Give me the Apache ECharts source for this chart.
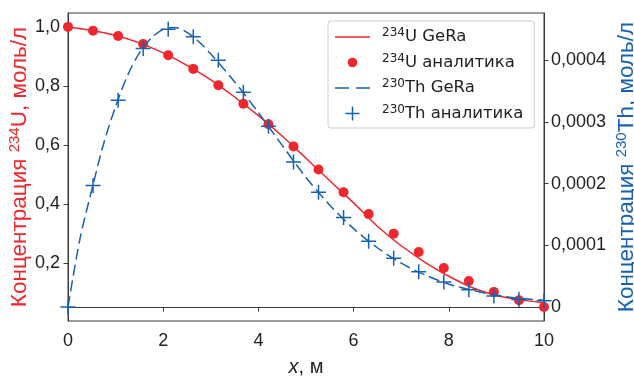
<!DOCTYPE html>
<html><head><meta charset="utf-8">
<script src="https://cdn.jsdelivr.net/npm/echarts@6/dist/echarts.min.js"></script>
<style>html,body{margin:0;padding:0;background:#fff}#c{width:634px;height:376px}</style>
</head><body><div id="c"></div>
<script>
// ---- data ----
const seriesNames = ['234U GeRa', '234U аналитика', '230Th GeRa', '230Th аналитика'];
const xAnalytic = [0, 0.526, 1.053, 1.579, 2.105, 2.632, 3.158, 3.684, 4.211, 4.737, 5.263, 5.789, 6.316, 6.842, 7.368, 7.895, 8.421, 8.947, 9.474, 10];
const uAnalytic = [1.000, 0.987, 0.969, 0.942, 0.904, 0.858, 0.803, 0.740, 0.671, 0.596, 0.518, 0.441, 0.367, 0.301, 0.239, 0.185, 0.141, 0.104, 0.076, 0.053];
const thAnalytic = [0, 1.97e-4, 3.35e-4, 4.19e-4, 4.50e-4, 4.38e-4, 4.00e-4, 3.48e-4, 2.93e-4, 2.35e-4, 1.86e-4, 1.45e-4, 1.065e-4, 0.79e-4, 0.57e-4, 0.405e-4, 0.28e-4, 0.18e-4, 0.12e-4, 0.10e-4];
const uLineX = [0, 0.5, 1, 1.5, 2, 2.5, 3, 3.5, 4, 4.5, 5, 5.5, 6, 6.5, 7, 7.5, 8, 8.5, 9, 9.5, 10];
const uLineY = [1.000, 0.988, 0.971, 0.946, 0.912, 0.870, 0.821, 0.763, 0.700, 0.631, 0.556, 0.480, 0.405, 0.326, 0.260, 0.204, 0.157, 0.118, 0.092, 0.077, 0.067];
const thLineX = [0, 0.25, 0.5, 0.75, 1, 1.25, 1.5, 1.75, 2, 2.25, 2.5, 2.75, 3, 3.5, 4, 4.5, 5, 5.5, 6, 6.5, 7, 7.5, 8, 8.5, 9, 9.5, 10];
const thLineY = [0, 1.1e-4, 1.9e-4, 2.65e-4, 3.25e-4, 3.75e-4, 4.12e-4, 4.36e-4, 4.50e-4, 4.53e-4, 4.45e-4, 4.30e-4, 4.10e-4, 3.65e-4, 3.15e-4, 2.62e-4, 2.10e-4, 1.65e-4, 1.27e-4, 0.96e-4, 0.71e-4, 0.52e-4, 0.37e-4, 0.27e-4, 0.19e-4, 0.14e-4, 0.11e-4];
const xTicks = [0, 2, 4, 6, 8, 10];
const yLeftTicks = [0.2, 0.4, 0.6, 0.8, 1.0];
const yLeftLabels = ['0,2', '0,4', '0,6', '0,8', '1,0'];
const yRightTicks = [0, 0.0001, 0.0002, 0.0003, 0.0004];
const yRightLabels = ['0', '0,0001', '0,0002', '0,0003', '0,0004'];

// ---- styling ----
const RED = '#f0262c';
const BLUE = '#1662b0';
const AX = '#3a3a3a';
const TICKFONT = {fontFamily: 'Liberation Sans', fontSize: 18, color: '#222'};
function pick(ticks, labels, v) {
  let best = 0, d = Infinity;
  ticks.forEach((t, i) => { const e = Math.abs(t - v); if (e < d) { d = e; best = i; } });
  return labels[best];
}
function nameRich(color) {
  return {
    m: {fontFamily: 'Liberation Sans', fontSize: 22.5, color: color, lineHeight: 25, verticalAlign: 'middle'},
    s: {fontFamily: 'Liberation Sans', fontSize: 15, color: color, lineHeight: 15, verticalAlign: 'top'}
  };
}
const zip = (a, b) => a.map((v, i) => [v, b[i]]);
const PLUS = 'path://M0,7H14M7,0V14';

const chart = echarts.init(document.getElementById('c'), null, {renderer: 'canvas'});
chart.setOption({
  animation: false,
  backgroundColor: '#fff',
  grid: {left: 68, right: 90, top: 13, bottom: 55, containLabel: false, outerBoundsMode: 'none',
         show: true, borderColor: AX, borderWidth: 1, backgroundColor: 'transparent'},
  xAxis: {
    type: 'value', min: 0, max: 10, interval: 2,
    axisLine: {show: true, lineStyle: {color: AX, width: 1}},
    axisTick: {show: true, length: 4.5, lineStyle: {color: AX}},
    axisLabel: Object.assign({margin: 11, formatter: v => String(v)}, TICKFONT),
    splitLine: {show: false},
    name: '{i|x}{m|, м}', nameLocation: 'middle', nameGap: 36,
    nameTextStyle: {rich: {
      i: {fontFamily: 'Liberation Sans', fontSize: 20, fontStyle: 'italic', color: '#222'},
      m: {fontFamily: 'Liberation Sans', fontSize: 20, color: '#222'}
    }}
  },
  yAxis: [{
    type: 'value', min: 0.0056, max: 1.047, position: 'left',
    axisLine: {show: true, lineStyle: {color: AX, width: 1}},
    axisTick: {show: true, length: 4.5, lineStyle: {color: AX}, customValues: yLeftTicks},
    axisLabel: Object.assign({margin: 8, customValues: yLeftTicks, formatter: v => pick(yLeftTicks, yLeftLabels, v)}, TICKFONT),
    splitLine: {show: false},
    name: '{m|Концентрация }{s|234}{m|U, моль/л}', nameLocation: 'middle', nameRotate: 90, nameGap: 36,
    nameMoveOverlap: false,
    nameTextStyle: {rich: nameRich(RED)}
  }, {
    type: 'value', min: -0.0000227, max: 0.0004765, position: 'right',
    axisLine: {show: true, lineStyle: {color: AX, width: 1}},
    axisTick: {show: true, length: 4.5, lineStyle: {color: AX}, customValues: yRightTicks},
    axisLabel: Object.assign({margin: 7, customValues: yRightTicks, formatter: v => pick(yRightTicks, yRightLabels, v)}, TICKFONT),
    splitLine: {show: false},
    name: '{m|Концентрация }{s|230}{m|Th, моль/л}', nameLocation: 'middle', nameRotate: 90, nameGap: 70,
    nameMoveOverlap: false,
    nameTextStyle: {rich: nameRich(BLUE)}
  }],
  legend: {
    left: 328, top: 21, orient: 'vertical', itemGap: 7, itemWidth: 35, itemHeight: 14,
    padding: [6, 11, 6, 7], borderColor: '#cccccc', borderWidth: 1, borderRadius: 3, backgroundColor: 'rgba(255,255,255,0.8)',
    data: [
      {name: seriesNames[0], icon: 'path://M0,6.25h35v1.5h-35z', itemStyle: {color: RED}},
      {name: seriesNames[1], icon: 'path://M0,0M14,14M7,2.2A4.8,4.8,0,1,1,6.99,2.2Z', itemStyle: {color: RED}},
      {name: seriesNames[2], icon: 'path://M0,6.25h14v1.5h-14zM21,6.25h14v1.5h-14z', itemStyle: {color: BLUE}},
      {name: seriesNames[3], icon: PLUS, itemStyle: {color: 'transparent', borderColor: BLUE, borderWidth: 1.5}}
    ],
    formatter: n => n.replace(/^(\d+)(.*)$/, '{s|$1}{t|$2}'),
    textStyle: {
      padding: [0, 0, 0, 7],
      rich: {
        t: {fontFamily: 'DejaVu Sans', fontSize: 16.5, color: '#222', lineHeight: 20, verticalAlign: 'middle'},
        s: {fontFamily: 'DejaVu Sans', fontSize: 12, color: '#222', lineHeight: 12, verticalAlign: 'top'}
      }
    }
  },
  series: [
    {name: seriesNames[0], type: 'line', yAxisIndex: 0, data: zip(uLineX, uLineY), smooth: 0.3, symbol: 'none',
     lineStyle: {color: RED, width: 1.5}, itemStyle: {color: RED}, z: 2},
    {name: seriesNames[1], type: 'scatter', yAxisIndex: 0, data: zip(xAnalytic, uAnalytic), symbol: 'circle', symbolSize: 10,
     itemStyle: {color: RED, opacity: 1}, z: 3},
    {name: seriesNames[2], type: 'line', yAxisIndex: 1, data: zip(thLineX, thLineY), smooth: 0.3, symbol: 'none',
     lineStyle: {color: BLUE, width: 1.5, type: [11, 5]}, itemStyle: {color: BLUE}, z: 4},
    {name: seriesNames[3], type: 'scatter', yAxisIndex: 1, data: zip(xAnalytic, thAnalytic), symbol: PLUS, symbolSize: 15,
     itemStyle: {color: 'transparent', borderColor: BLUE, borderWidth: 1.5, opacity: 1}, z: 5}
  ]
});
</script></body></html>
